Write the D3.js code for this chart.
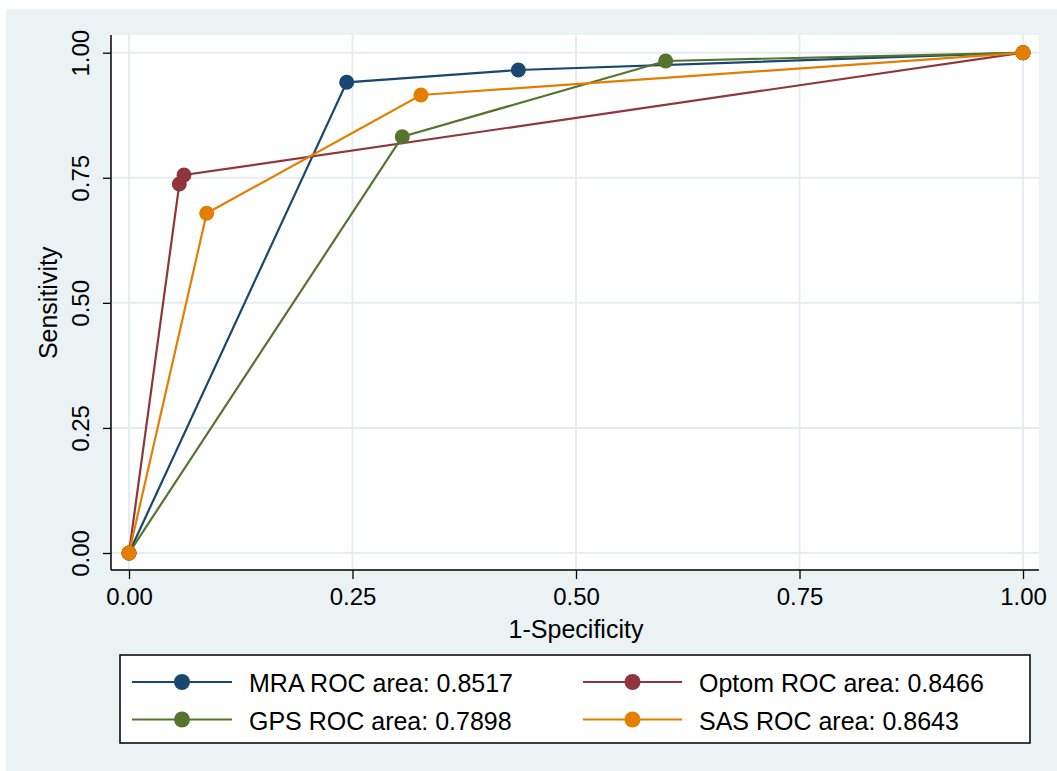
<!DOCTYPE html>
<html>
<head>
<meta charset="utf-8">
<script src="https://cdn.jsdelivr.net/npm/d3@7"></script>
<style>
  html, body { margin: 0; padding: 0; background: #ffffff; }
  svg { display: block; font-family: "Liberation Sans", Arial, Helvetica, sans-serif; }
</style>
</head>
<body>
<svg id="chart" width="1057" height="771"></svg>
<script>
// ---- Data ----
const seriesNames = ["MRA", "Optom", "GPS", "SAS"];
const rocAreas = ["0.8517", "0.8466", "0.7898", "0.8643"];
const colors = ["#1a476f", "#90353b", "#55752f", "#e37e00"];
const mraX = [0, 0.2435, 0.4355, 1];
const mraY = [0, 0.9408, 0.9654, 1];
const optomX = [0, 0.0563, 0.0615, 1];
const optomY = [0, 0.7376, 0.7555, 1];
const gpsX = [0, 0.3057, 0.6003, 1];
const gpsY = [0, 0.8321, 0.9834, 1];
const sasX = [0, 0.0869, 0.3266, 1];
const sasY = [0, 0.6790, 0.9155, 1];
const tickValues = [0, 0.25, 0.5, 0.75, 1];
const tickLabels = ["0.00", "0.25", "0.50", "0.75", "1.00"];
const xTitle = "1-Specificity";
const yTitle = "Sensitivity";

const seriesX = [mraX, optomX, gpsX, sasX];
const seriesY = [mraY, optomY, gpsY, sasY];

// ---- Layout ----
const svg = d3.select("#chart");
const W = 1057, H = 771;
const bg = "#eaf2f3";
const grid = "#e5edf1";

svg.append("rect").attr("x", 6).attr("y", 9).attr("width", W - 6).attr("height", H - 9).attr("fill", bg);

const plot = { left: 111, top: 35, right: 1039, bottom: 570 };
svg.append("rect")
  .attr("x", plot.left).attr("y", plot.top)
  .attr("width", plot.right - plot.left).attr("height", plot.bottom - plot.top)
  .attr("fill", "#ffffff");

const x = d3.scaleLinear().domain([0, 1]).range([129, 1023]);
const y = d3.scaleLinear().domain([0, 1]).range([553, 52.7]);

// gridlines
const g = svg.append("g");
g.selectAll(".vg").data(tickValues).enter().append("line")
  .attr("x1", d => x(d)).attr("x2", d => x(d))
  .attr("y1", plot.top).attr("y2", plot.bottom)
  .attr("stroke", grid).attr("stroke-width", 2);
g.selectAll(".hg").data(tickValues).enter().append("line")
  .attr("y1", d => y(d)).attr("y2", d => y(d))
  .attr("x1", plot.left).attr("x2", plot.right)
  .attr("stroke", grid).attr("stroke-width", 2);

// axes
const fmt = (d) => tickLabels[tickValues.indexOf(d)];
const xAxis = d3.axisBottom(x).tickValues(tickValues).tickFormat(fmt).tickSize(9).tickSizeOuter(0).tickPadding(9);
const yAxis = d3.axisLeft(y).tickValues(tickValues).tickFormat(fmt).tickSize(8).tickSizeOuter(0).tickPadding(6);

const xa = svg.append("g").attr("transform", `translate(0,${plot.bottom})`).call(xAxis);
xa.select(".domain").attr("d", `M${plot.left},0H${plot.right}`).attr("stroke", "#000").attr("stroke-width", 1.5);
xa.selectAll(".tick line").attr("stroke", "#000").attr("stroke-width", 1.3);
xa.selectAll(".tick text").attr("font-size", 24).attr("fill", "#000")
  .attr("font-family", "Liberation Sans, Arial, sans-serif");

const ya = svg.append("g").attr("transform", `translate(${plot.left},0)`).call(yAxis);
ya.select(".domain").attr("d", `M0,${plot.top}V${plot.bottom}`).attr("stroke", "#000").attr("stroke-width", 1.5);
ya.selectAll(".tick line").attr("stroke", "#000").attr("stroke-width", 1.3);
ya.selectAll(".tick text")
  .attr("font-size", 24).attr("fill", "#000")
  .attr("font-family", "Liberation Sans, Arial, sans-serif")
  .attr("text-anchor", "middle").attr("dy", 0)
  .attr("x", null)
  .attr("transform", "translate(-22,0) rotate(-90)");

// axis titles
svg.append("text").attr("x", (x(0) + x(1)) / 2).attr("y", 638)
  .attr("text-anchor", "middle").attr("font-size", 25).attr("fill", "#000").text(xTitle);
svg.append("text").attr("transform", `translate(57,${y(0.5)}) rotate(-90)`)
  .attr("text-anchor", "middle").attr("font-size", 25).attr("fill", "#000").text(yTitle);

// series
const line = d3.line().x(d => x(d[0])).y(d => y(d[1]));
seriesNames.forEach((name, i) => {
  const pts = seriesX[i].map((v, j) => [v, seriesY[i][j]]);
  svg.append("path").datum(pts).attr("d", line)
    .attr("fill", "none").attr("stroke", colors[i]).attr("stroke-width", 2.2);
  svg.append("g").selectAll("circle").data(pts).enter().append("circle")
    .attr("cx", d => x(d[0])).attr("cy", d => y(d[1])).attr("r", 7.5)
    .attr("fill", colors[i]);
});

// legend
svg.append("rect").attr("x", 120).attr("y", 655).attr("width", 910).attr("height", 88)
  .attr("fill", "#ffffff").attr("stroke", "#000").attr("stroke-width", 1.5);
const legCols = [{ l: 132, r: 232, t: 249 }, { l: 583, r: 682, t: 699 }];
const legRows = [682, 719.5];
seriesNames.forEach((name, i) => {
  const c = legCols[i % 2], ry = legRows[Math.floor(i / 2)];
  svg.append("line").attr("x1", c.l).attr("x2", c.r).attr("y1", ry).attr("y2", ry)
    .attr("stroke", colors[i]).attr("stroke-width", 2.2);
  svg.append("circle").attr("cx", (c.l + c.r) / 2).attr("cy", ry).attr("r", 8).attr("fill", colors[i]);
  svg.append("text").attr("x", c.t).attr("y", ry + 10).attr("font-size", 25).attr("fill", "#000")
    .text(`${name} ROC area: ${rocAreas[i]}`);
});
</script>
</body>
</html>
